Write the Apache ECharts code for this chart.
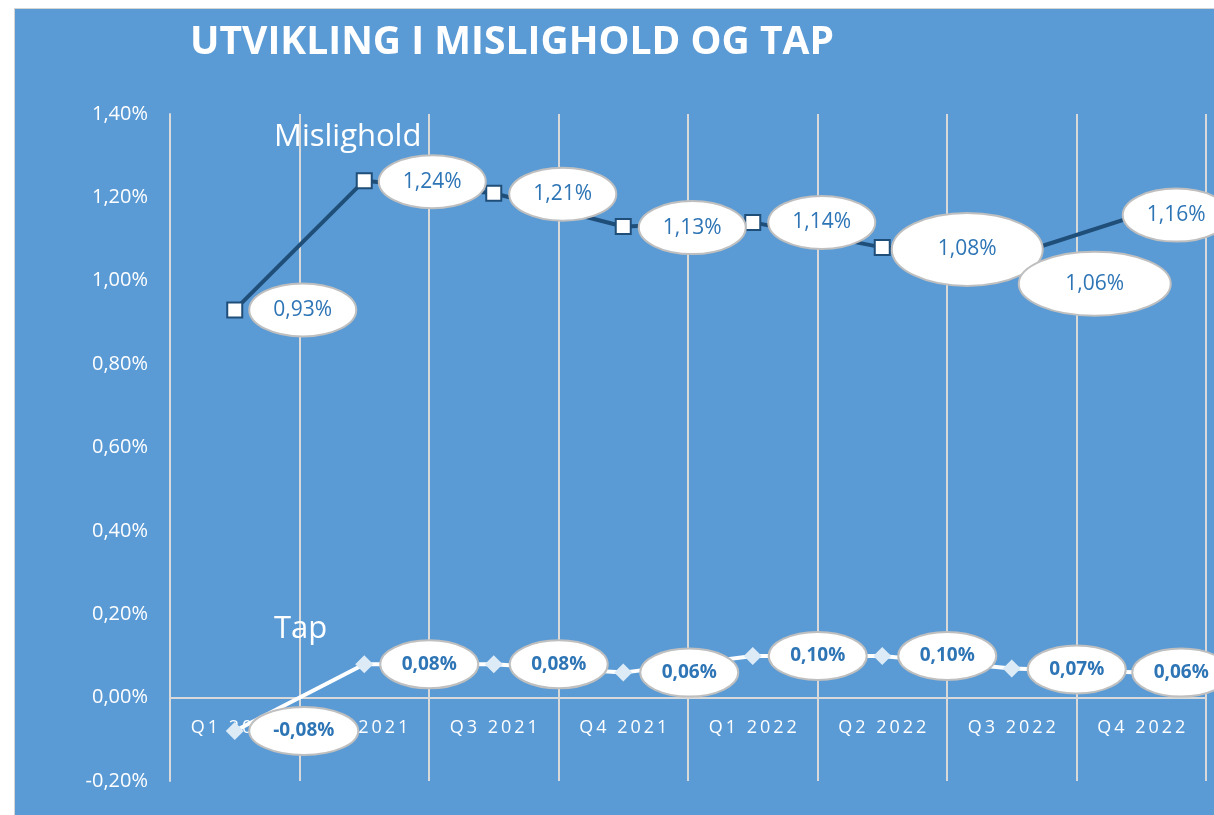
<!DOCTYPE html>
<html>
<head>
    <meta charset="utf-8">
    <title>Utvikling i mislighold og tap</title>
    <script src="https://cdn.jsdelivr.net/npm/echarts/dist/echarts.min.js"></script>
    <style>
        body { margin: 0; background: #ffffff; }
        #chart {
            position: absolute; left: 14px; top: 8px;
            width: 1199px; height: 806px;
            border-left: 1px solid #d4d4d4; border-top: 1px solid #d4d4d4;
        }
    </style>
</head>
<body>
<div id="chart"></div>
<script type="text/javascript">
    // data (percent)
    var quarters = ['Q1 2021', 'Q2 2021', 'Q3 2021', 'Q4 2021', 'Q1 2022', 'Q2 2022', 'Q3 2022', 'Q4 2022'];
    var mislighold = [0.93, 1.24, 1.21, 1.13, 1.14, 1.08, 1.06, 1.16];
    var tap = [-0.08, 0.08, 0.08, 0.06, 0.10, 0.10, 0.07, 0.06];
    var yTicks = { min: -0.2, max: 1.4, step: 0.2 };

    // label bubble placement (px from the point) and size, like the excel sheet
    var misOffset = [[68, 0], [68, 1], [69, 1], [69, 1], [69, 0], [85, 2], [83, 28], [35, 1]];
    var misSize = [[107, 53], [107, 53], [107, 53], [107, 53], [107, 53], [151, 73], [152, 64], [107, 53]];
    var tapOffset = [[69, 0], [65, 0], [65, 0], [66, 0], [65, 0], [65, 0], [65, 1], [40, 0]];
    var tapSize = [[109, 48], [98, 48], [98, 48], [98, 48], [98, 48], [98, 48], [98, 48], [98, 48]];

    function pct(v) {
        return v.toFixed(2).replace('.', ',') + '%';
    }

    function bubbles(offsets, sizes, font) {
        return function (params, api) {
            var i = params.dataIndex;
            var p = api.coord([api.value(0), api.value(1)]);
            var cx = p[0] + offsets[i][0];
            var cy = p[1] + offsets[i][1];
            var a = sizes[i][0] / 2, b = sizes[i][1] / 2;
            var d = 'M' + (cx - a) + ' ' + cy +
                ' A' + a + ' ' + b + ' 0 1 0 ' + (cx + a) + ' ' + cy +
                ' A' + a + ' ' + b + ' 0 1 0 ' + (cx - a) + ' ' + cy + ' Z';
            return {
                type: 'group',
                children: [{
                    type: 'path',
                    shape: { pathData: d },
                    style: { fill: '#ffffff', stroke: '#bfbfbf', lineWidth: 2 }
                }, {
                    type: 'text',
                    x: cx, y: cy,
                    style: {
                        text: pct(api.value(1)),
                        align: 'center', verticalAlign: 'middle',
                        fill: '#2e75b6', font: font
                    }
                }]
            };
        };
    }

    var myChart = echarts.init(document.getElementById('chart'));
    myChart.setOption({
        animation: false,
        backgroundColor: '#5b9bd5',
        title: {
            text: 'UTVIKLING I MISLIGHOLD OG TAP',
            left: 175, top: 14, padding: 0,
            textStyle: { color: '#ffffff', fontFamily: 'Open Sans', fontWeight: 'bold', fontSize: 39 }
        },
        graphic: [
            { type: 'text', x: 259, y: 128, z: 10,
              style: { text: 'Mislighold', fill: '#ffffff', font: '31px "Open Sans"', verticalAlign: 'middle' } },
            { type: 'text', x: 259, y: 620, z: 10,
              style: { text: 'Tap', fill: '#ffffff', font: '31px "Open Sans"', verticalAlign: 'middle' } }
        ],
        grid: { left: 155, top: 105, right: 8, bottom: 34, outerBoundsMode: 'none' },
        xAxis: {
            type: 'category',
            data: quarters,
            boundaryGap: true,
            // axis sits on the 0 % line (0.2 step = 83 px above the bottom)
            offset: -83,
            axisLine: { onZero: false, lineStyle: { color: '#d9d9d9', width: 2 } },
            axisTick: { show: false },
            axisLabel: {
                color: '#ffffff', fontFamily: 'Open Sans', fontSize: 18, margin: 21,
                formatter: function (s) { return s.split('').join('\u2009'); }
            },
            splitLine: { show: true, lineStyle: { color: '#d9d9d9', width: 2 } }
        },
        yAxis: {
            type: 'value',
            min: yTicks.min, max: yTicks.max, interval: yTicks.step,
            axisLine: { show: true, lineStyle: { color: '#d9d9d9', width: 2 } },
            axisTick: { show: false },
            splitLine: { show: false },
            axisLabel: {
                color: '#ffffff', fontFamily: 'Open Sans', fontSize: 20, margin: 22,
                formatter: pct
            }
        },
        series: [{
            name: 'Mislighold',
            type: 'line',
            data: mislighold,
            z: 3,
            symbol: 'rect', symbolSize: 15,
            itemStyle: { color: '#ffffff', borderColor: '#1f4e79', borderWidth: 2 },
            lineStyle: { color: '#1f4e79', width: 4 }
        }, {
            name: 'Tap',
            type: 'line',
            data: tap,
            z: 3,
            symbol: 'diamond', symbolSize: 18,
            itemStyle: { color: '#ddebf7', borderWidth: 0 },
            lineStyle: { color: '#ffffff', width: 4 }
        }, {
            type: 'custom',
            z: 5,
            data: mislighold.map(function (v, i) { return [i, v]; }),
            renderItem: bubbles(misOffset, misSize, '21px "Open Sans"')
        }, {
            type: 'custom',
            z: 5,
            data: tap.map(function (v, i) { return [i, v]; }),
            renderItem: bubbles(tapOffset, tapSize, 'bold 19px "Open Sans"')
        }]
    });
</script>
</body>
</html>
